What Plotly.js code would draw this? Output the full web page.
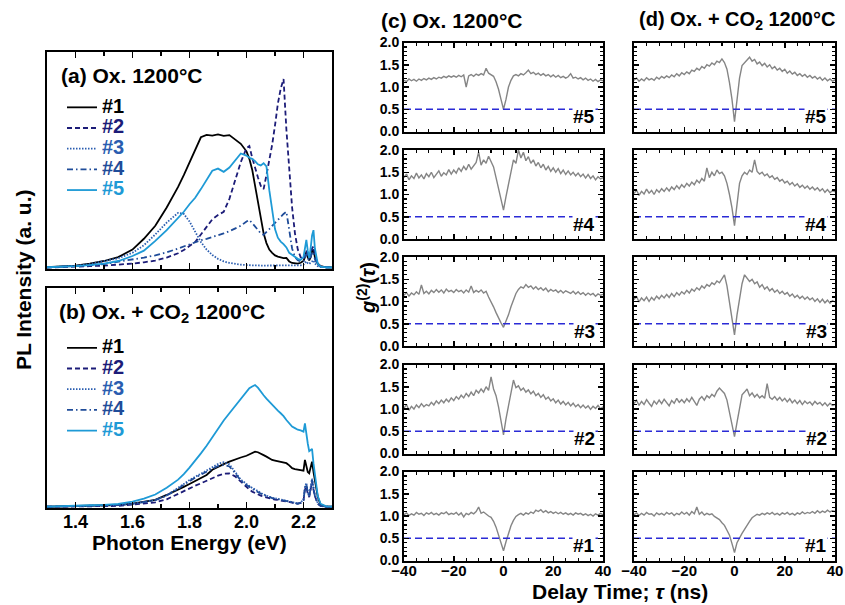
<!DOCTYPE html>
<html>
<head>
<meta charset="utf-8">
<script src="https://cdn.plot.ly/plotly-3.0.1.min.js"></script>
<style>html,body{margin:0;padding:0;background:#fff;}#chart{width:845px;height:605px;}</style>
</head>
<body>
<div id="chart"></div>
<script>
// ---------------- DATA ----------------
const energy = [1.30,1.35,1.40,1.45,1.50,1.55,1.60,1.64,1.68,1.72,1.76,1.78,1.80,1.82,1.84,1.86,1.88,1.90,1.92,1.94,1.96,1.98,2.00,
  2.01,2.02,2.03,2.04,2.05,2.06,2.07,2.08,2.09,2.10,2.11,2.12,2.13,2.14,2.15,2.16,2.17,2.18,2.19,2.20,
  2.205,2.21,2.215,2.22,2.225,2.23,2.235,2.24,2.25,2.26,2.28,2.30];

const sampleNames = ['#1','#2','#3','#4','#5'];

// (a) Ox. 1200°C  PL spectra
const plA1 = [0.3,0.5,1.0,2.0,3.2,5.0,8.5,13.5,19.5,28,37.5,43,49,55,60.5,61.6,61.3,61.8,61.2,61.5,59.5,57.5,54,
  50.5,45.5,38,30,22.5,16,11.5,8.5,7,5.8,5.2,4.8,4.5,4.6,3.0,2.3,2.0,2.0,2.4,3.2,
  5,7.5,5,3.5,5,7.5,8.5,5,2,0.8,0.3,0.2];
const plA2 = [0.2,0.3,0.5,0.8,1.1,1.5,2.0,2.6,3.4,4.8,6.8,8.3,10,12,15.5,19,22.5,24.5,26,32,40,49,55.5,
  56.5,51,46,42,38,36.5,43,50,57,66,76,83,87.5,64,44,28,16,8.5,5,4,
  5.5,8,6,4.5,6.5,9,10,6,2,0.7,0.3,0.2];
const plA3 = [0.3,0.5,1.0,1.8,3.0,4.5,7,10.5,15.5,21,25.5,25,21.5,16.5,12,8.5,6,4.2,3,2.3,1.8,1.5,1.3,
  1.2,1.2,1.2,1.1,1.1,1.1,1.1,1.1,1.0,1.0,1.0,1.0,1.0,1.0,1.0,1.0,1.1,1.1,1.2,1.5,
  2.2,3,2.2,1.8,2.5,3.2,3.5,2,0.8,0.4,0.2,0.2];
const plA4 = [0.3,0.5,0.8,1.2,1.8,2.8,3.8,4.8,5.8,7.2,9,10,11,12,12.8,13.5,14.3,15,16,17,18.2,19.5,21.5,
  22.2,20.8,19.2,17.8,16,15.3,16.5,18,19.5,21,22.5,23.8,25,26,17,9,5,3.5,3,3,
  4.5,6.5,4.5,3.5,5,7,7.5,4,1.5,0.6,0.3,0.2];
const plA5 = [0.3,0.5,0.8,1.3,2.0,3.2,5.5,8,12.5,17.5,23,26,29.5,32.5,36.5,41,45,46,44.5,46.5,49.5,53,52,
  51,50.5,49.5,48,47.5,48.5,47,36,26,18,14,12.2,11,9.5,7,6,5,4.2,3.7,5,
  9,13,8,4.5,9,15,17.5,9,2,0.6,0.3,0.2];

// (b) Ox. + CO2 1200°C  PL spectra
const plB1 = [0.1,0.2,0.3,0.4,0.6,0.9,1.5,2.3,3.3,5.5,7.8,9.2,10.5,11.8,13.2,14.6,17,18.4,19.6,20.7,21.8,22.6,23.4,
  24.0,24.8,25.3,25.0,24.5,23.7,23,22.3,21.5,21.2,20.9,20.7,20.5,20,19,17.7,17.3,17,16.9,16.6,
  21.5,19,16,15.4,18,20.7,16,12.3,4.7,1,0.2,0.1];
const plB2 = [0.1,0.1,0.2,0.3,0.4,0.5,1.0,1.5,2.1,3.5,6,7.5,8.7,9.7,10.8,12,13.2,14.3,15.2,15.3,14,11.5,9,
  8,7,6.3,5.7,5.2,4.7,4.3,4,3.6,3.4,3.2,3,2.8,2.6,2.4,2.0,1.6,1.5,1.8,3,
  8,9.3,6,4.5,8,11.6,8,5,1.5,0.5,0.1,0.1];
const plB3 = [0.1,0.2,0.3,0.4,0.6,0.9,1.5,2.2,3.2,5.3,8.5,10.5,12.3,13.8,15.2,16.6,18,19.6,20.5,19.5,16,12.5,10.5,
  9.5,8.7,8,7.2,6.2,5.7,5.2,4.6,4.2,4,3.7,3.5,3.3,3.0,2.7,2.3,1.8,1.6,2,3.5,
  9,11,7,5,9,13,9,5.5,1.8,0.5,0.1,0.1];
const plB4 = [0.1,0.2,0.3,0.4,0.6,0.9,1.4,2.1,3.1,5.2,8.2,10.2,12,13.4,14.8,16.1,17.5,18.7,19.2,18.5,15.5,12,10,
  9,8.3,7.5,6.8,6,5.5,5,4.4,4.1,3.8,3.6,3.4,3.2,2.9,2.5,2.2,1.7,1.5,1.9,3.2,
  8.5,10.5,6.5,4.8,8.5,12.5,8.5,5,1.6,0.5,0.1,0.1];
const plB5 = [0.2,0.3,0.5,0.8,1.0,1.4,2.5,3.8,5.7,8.8,12.5,15,18,21,24.5,28,32,36,39.5,42.8,46,49.6,52.5,
  54.2,55,55.7,54.5,52.6,51,49.5,48,46.5,45,44,42.8,41.5,39.7,38,36.7,36,35.3,35,34.4,
  38.2,33,29,25.5,26,26.5,20,14,5,1.5,0.3,0.2];

// g2(tau) delay axis (ns)
const tau = [-40,-39,-38,-37,-36,-35,-34,-33,-32,-31,-30,-29,-28,-27,-26,-25,-24,-23,-22,-21,
  -20,-19,-18,-17,-16,-15,-14,-13,-12,-11,-10,-9,-8,-7,-6,-5,-4,-3,-2,-1,0,
  1,2,3,4,5,6,7,8,9,10,11,12,13,14,15,16,17,18,19,20,
  21,22,23,24,25,26,27,28,29,30,31,32,33,34,35,36,37,38,39,40];
const refLevel = 0.5;

// (c) Ox. 1200°C
const g2C5 = [1.15,1.12,1.18,1.14,1.17,1.13,1.18,1.15,1.19,1.16, 1.2,1.17,1.21,1.18,1.22,1.2,1.24,1.21,1.25,1.22,
  1.25,1.22,1.26,1.23,1.27,1.0,1.25,1.28,1.24,1.29, 1.26,1.3,1.27,1.42,1.31,1.28,1.24,1.12,0.95,0.72, 0.5,
  0.72,1.0,1.15,1.25,1.28,1.25,1.3,1.27,1.32,1.38, 1.3,1.33,1.28,1.31,1.26,1.3,1.25,1.28,1.23,1.27,
  1.22,1.26,1.21,1.24,1.2,1.23,1.3,1.2,1.22,1.18, 1.21,1.16,1.2,1.15,1.18,1.13,1.17,1.12,1.16,1.14];
const g2C4 = [1.38,1.46,1.33,1.42,1.36,1.48,1.37,1.44,1.35,1.47, 1.4,1.5,1.38,1.45,1.53,1.41,1.49,1.44,1.56,1.46,
  1.55,1.48,1.6,1.52,1.63,1.55,1.68,1.57,1.65,1.72, 1.95,1.66,1.78,1.7,1.86,1.75,1.62,1.38,1.12,0.88, 0.65,
  0.95,1.25,1.55,1.78,1.7,2.0,1.82,1.95,1.76,1.85, 1.7,1.78,1.64,1.72,1.6,1.68,1.55,1.63,1.52,1.6,
  1.5,1.58,1.47,1.55,1.45,1.53,1.44,1.5,1.42,1.48, 1.4,1.46,1.37,1.45,1.36,1.42,1.33,1.4,1.35,1.38];
const g2C3 = [1.14,1.2,1.12,1.19,1.15,1.22,1.16,1.37,1.18,1.23, 1.17,1.25,1.2,1.27,1.21,1.26,1.19,1.28,1.22,1.25,
  1.2,1.27,1.22,1.25,1.19,1.26,1.21,1.35,1.2,1.25, 1.21,1.26,1.19,1.23,1.1,1.0,0.88,0.75,0.62,0.52, 0.42,
  0.55,0.7,0.88,1.05,1.18,1.27,1.33,1.3,1.38,1.32, 1.35,1.28,1.33,1.27,1.31,1.25,1.3,1.22,1.27,1.23,
  1.26,1.2,1.25,1.19,1.24,1.21,1.18,1.23,1.17,1.22, 1.16,1.2,1.14,1.19,1.15,1.18,1.12,1.17,1.14,1.16];
const g2C2 = [1.02,1.1,0.97,1.06,1.0,1.09,1.03,1.12,1.05,1.1, 1.07,1.15,1.09,1.18,1.12,1.2,1.14,1.22,1.16,1.25,
  1.19,1.28,1.22,1.31,1.25,1.35,1.28,1.38,1.3,1.42, 1.36,1.45,1.38,1.5,1.42,1.72,1.45,1.3,1.05,0.72, 0.42,
  0.78,1.1,1.42,1.65,1.48,1.52,1.42,1.47,1.38,1.43, 1.34,1.4,1.3,1.35,1.26,1.32,1.22,1.27,1.18,1.23,
  1.14,1.2,1.11,1.17,1.09,1.15,1.07,1.13,1.05,1.1, 1.03,1.09,1.02,1.07,0.99,1.06,1.01,1.08,1.0,1.05];
const g2C1 = [1.03,1.07,1.01,1.05,1.02,1.08,1.04,1.06,1.01,1.07, 1.04,1.08,1.03,1.06,1.02,1.07,1.05,1.09,1.03,1.06,
  1.04,1.08,1.02,1.07,0.98,1.06,1.03,1.08,1.05,1.1, 1.2,1.06,1.09,1.04,1.0,0.97,0.88,0.75,0.58,0.4, 0.22,
  0.42,0.6,0.78,0.9,0.99,1.03,1.06,1.02,1.07,1.04, 1.09,1.06,1.13,1.1,1.14,1.08,1.12,1.07,1.1,1.06,
  1.09,1.05,1.08,1.04,1.07,1.03,1.06,1.02,1.07,1.04, 1.06,1.02,1.05,1.01,1.04,1.0,1.05,1.02,1.06,1.03];

// (d) Ox. + CO2 1200°C
const g2D5 = [1.15,1.2,1.13,1.18,1.14,1.21,1.16,1.19,1.15,1.22, 1.18,1.24,1.2,1.25,1.21,1.27,1.23,1.3,1.25,1.32,
  1.28,1.34,1.3,1.38,1.35,1.42,1.38,1.46,1.42,1.5, 1.47,1.54,1.5,1.58,1.55,1.63,1.55,1.4,1.1,0.72, 0.22,
  0.75,1.2,1.48,1.55,1.6,1.67,1.58,1.62,1.52,1.56, 1.48,1.53,1.45,1.5,1.41,1.46,1.38,1.42,1.35,1.4,
  1.31,1.36,1.29,1.33,1.26,1.3,1.24,1.28,1.22,1.26, 1.2,1.24,1.18,1.22,1.15,1.2,1.14,1.18,1.13,1.16];
const g2D4 = [1.02,1.1,0.98,1.07,1.01,1.12,1.03,1.09,1.0,1.11, 1.05,1.13,1.07,1.15,1.08,1.17,1.11,1.2,1.13,1.22,
  1.16,1.25,1.19,1.28,1.22,1.32,1.26,1.36,1.3,1.6, 1.38,1.5,1.42,1.55,1.47,1.5,1.42,1.25,1.0,0.7, 0.3,
  0.85,1.25,1.42,1.5,1.45,1.55,1.5,1.78,1.52,1.46, 1.5,1.42,1.46,1.38,1.42,1.34,1.38,1.3,1.34,1.26,
  1.3,1.22,1.27,1.19,1.24,1.16,1.21,1.14,1.19,1.12, 1.17,1.1,1.15,1.08,1.13,1.05,1.11,1.04,1.09,1.06];
const g2D3 = [1.04,1.12,0.99,1.08,1.02,1.1,1.0,1.09,1.03,1.12, 1.06,1.14,1.08,1.16,1.09,1.18,1.11,1.2,1.14,1.22,
  1.17,1.25,1.19,1.28,1.23,1.31,1.26,1.35,1.3,1.38, 1.34,1.42,1.38,1.46,1.42,1.52,1.6,1.35,1.0,0.6, 0.25,
  0.7,1.1,1.4,1.6,1.52,1.45,1.5,1.4,1.44,1.32, 1.38,1.28,1.33,1.24,1.29,1.21,1.26,1.18,1.23,1.16,
  1.2,1.12,1.17,1.09,1.14,1.07,1.12,1.05,1.1,1.04, 1.08,1.0,1.06,0.98,1.05,0.97,1.03,0.96,1.02,0.99];
const g2D2 = [1.12,1.2,1.08,1.17,1.1,1.21,1.13,1.06,1.18,1.11, 1.2,1.12,1.22,1.14,1.07,1.19,1.13,1.24,1.15,1.21,
  1.14,1.23,1.16,1.26,1.18,1.08,1.22,1.28,1.2,1.3, 1.25,1.33,1.28,1.4,1.47,1.42,1.35,1.2,0.95,0.65, 0.38,
  0.7,1.05,1.32,1.38,1.45,1.3,1.36,1.27,1.33,1.25, 1.3,1.24,1.57,1.26,1.22,1.28,1.2,1.26,1.18,1.24,
  1.16,1.23,1.14,1.2,1.12,1.19,1.1,1.18,1.12,1.16, 1.09,1.17,1.11,1.15,1.08,1.14,1.07,1.13,1.08,1.1];
const g2D1 = [1.03,1.07,1.01,1.06,1.02,1.08,1.04,1.05,1.0,1.07, 1.03,1.06,1.02,1.08,1.04,1.07,1.01,1.06,1.03,1.09,
  1.04,1.08,1.02,1.1,1.05,1.2,1.04,1.09,1.02,1.06, 1.03,1.05,0.99,0.96,0.92,0.85,0.79,0.68,0.57,0.38, 0.18,
  0.4,0.52,0.61,0.7,0.8,0.88,0.96,1.0,1.04,1.02, 1.06,1.03,1.07,1.04,1.08,1.03,1.06,1.02,1.07,1.04,
  1.08,1.03,1.06,1.02,1.07,1.04,1.09,1.05,1.08,1.06, 1.1,1.06,1.12,1.07,1.11,1.08,1.13,1.09,1.12,1.1];

// ---------------- STYLE / LAYOUT ----------------
const W = 845, H = 605;
const FONT = 'Arial, "Liberation Sans", Helvetica, sans-serif';
const px = v => v / W;
const py = v => 1 - v / H;

const plColors = ['#000000', '#1c1c78', '#2a5db0', '#1f4c99', '#1e9ad6'];
const plDash = ['solid', '5px,3px', '1.5px,1.5px', '6px,3px,1.5px,3px', 'solid'];
const plA = [plA1, plA2, plA3, plA4, plA5];
const plB = [plB1, plB2, plB3, plB4, plB5];

const traces = [];
[plA, plB].forEach((set, p) => {
  set.forEach((ys, i) => {
    traces.push({
      type: 'scatter', mode: 'lines', x: energy, y: ys,
      xaxis: p === 0 ? 'x' : 'x2', yaxis: p === 0 ? 'y' : 'y2',
      legend: p === 0 ? 'legend' : 'legend2',
      name: '<span style="font-size:20px;color:' + plColors[i] + '"><b>' + sampleNames[i] + '</b></span>',
      line: { color: plColors[i], width: 1.8, dash: plDash[i] },
      showlegend: true
    });
  });
});

const g2Cols = [[g2C5, g2C4, g2C3, g2C2, g2C1], [g2D5, g2D4, g2D3, g2D2, g2D1]];
const rowLabels = ['#5', '#4', '#3', '#2', '#1'];
const rowTops = [42.5, 150, 257, 364.5, 471.5];
const rowH = 89;
const colX = [[404, 603], [634, 835]];

const legendStyle = {
  xanchor: 'left', yanchor: 'top',
  bgcolor: 'rgba(0,0,0,0)', font: { size: 13.6, family: FONT, weight: 'bold' },
  itemwidth: 30, tracegroupgap: 0, traceorder: 'normal'
};

const layout = {
  width: W, height: H,
  margin: { l: 0, r: 0, t: 0, b: 0 },
  paper_bgcolor: '#fff', plot_bgcolor: '#fff',
  font: { family: FONT, color: '#000' },
  showlegend: true,
  legend: Object.assign({ x: px(62), y: py(92) }, legendStyle),
  legend2: Object.assign({ x: px(62), y: py(332.5) }, legendStyle),
  annotations: []
};

const boxAxis = {
  showline: true, linewidth: 2, linecolor: '#000', mirror: 'ticks',
  showgrid: false, zeroline: false, fixedrange: true
};

// Left panels
layout.xaxis = Object.assign({}, boxAxis, {
  domain: [px(47), px(332)], range: [1.3, 2.3], anchor: 'y',
  ticks: 'inside', ticklen: 6, tickwidth: 1.5, tickcolor: '#000', tick0: 1.4, dtick: 0.2,
  minor: { ticks: 'inside', dtick: 0.1, tick0: 1.4, ticklen: 4, tickwidth: 1.5, tickcolor: '#000' },
  showticklabels: false
});
layout.yaxis = Object.assign({}, boxAxis, {
  domain: [py(269), py(52)], range: [-0.5, 100], anchor: 'x', mirror: true,
  ticks: '', showticklabels: false
});
layout.xaxis2 = Object.assign({}, boxAxis, {
  domain: [px(47), px(332)], range: [1.3, 2.3], anchor: 'y2',
  ticks: 'inside', ticklen: 6, tickwidth: 1.5, tickcolor: '#000', tick0: 1.4, dtick: 0.2,
  minor: { ticks: 'inside', dtick: 0.1, tick0: 1.4, ticklen: 4, tickwidth: 1.5, tickcolor: '#000' },
  showticklabels: true, tickformat: '.1f', ticklabelstandoff: -4,
  tickfont: { size: 18, family: FONT, weight: 'bold', color: '#000' }
});
layout.yaxis2 = Object.assign({}, boxAxis, {
  domain: [py(508), py(288)], range: [-0.46, 100], anchor: 'x2', mirror: true,
  ticks: '', showticklabels: false
});

// Right panels
let axIdx = 3;
g2Cols.forEach((col, c) => {
  col.forEach((ys, r) => {
    const n = axIdx++;
    const xa = 'x' + n, ya = 'y' + n;
    layout['xaxis' + n] = Object.assign({}, boxAxis, {
      domain: [px(colX[c][0]), px(colX[c][1])], range: [-40, 40], anchor: ya,
      ticks: 'inside', ticklen: 5, tickwidth: 1.5, tickcolor: '#000', tick0: -40, dtick: 20,
      minor: { ticks: 'inside', dtick: 5, tick0: -40, ticklen: 3, tickwidth: 1.2, tickcolor: '#000' },
      showticklabels: r === 4, ticklabelstandoff: -5,
      tickfont: { size: 15, family: FONT, weight: 'bold', color: '#000' }
    });
    layout['yaxis' + n] = Object.assign({}, boxAxis, {
      domain: [py(rowTops[r] + rowH), py(rowTops[r])], range: [0, 2], anchor: xa,
      ticks: 'inside', ticklen: 5, tickwidth: 1.5, tickcolor: '#000', tick0: 0, dtick: 0.5,
      minor: { ticks: 'inside', dtick: 0.1, tick0: 0, ticklen: 3, tickwidth: 1.2, tickcolor: '#000' },
      showticklabels: c === 0, tickformat: '.1f',
      tickfont: { size: 14, family: FONT, weight: 'bold', color: '#000' }
    });
    traces.push({
      type: 'scatter', mode: 'lines', x: tau, y: ys, xaxis: xa, yaxis: ya,
      line: { color: '#858585', width: 1.4 }, showlegend: false
    });
    traces.push({
      type: 'scatter', mode: 'lines', x: [tau[0], tau[tau.length - 1]], y: [refLevel, refLevel],
      xaxis: xa, yaxis: ya,
      line: { color: '#2b2bd6', width: 1.5, dash: '7px,4px' }, showlegend: false
    });
    layout.annotations.push({
      xref: xa + ' domain', yref: ya, x: 0.965, y: 0.33, xanchor: 'right', yanchor: 'middle',
      text: '<b>' + rowLabels[r] + '</b>', showarrow: false, bgcolor: '#fff', borderpad: 0,
      font: { size: 19, family: FONT, color: '#000' }
    });
  });
});

const bold21 = { size: 21, family: FONT, color: '#000' };
layout.annotations.push(
  { xref: 'paper', yref: 'paper', x: px(59), y: py(75), xanchor: 'left', yanchor: 'middle', showarrow: false,
    text: '<b>(a) Ox. 1200°C</b>', font: bold21 },
  { xref: 'paper', yref: 'paper', x: px(57), y: py(313), xanchor: 'left', yanchor: 'middle', showarrow: false,
    text: '<b>(b) Ox. + CO<sub>2</sub> 1200°C</b>', font: bold21 },
  { xref: 'paper', yref: 'paper', x: px(379), y: py(20), xanchor: 'left', yanchor: 'middle', showarrow: false,
    text: '<b>(c) Ox. 1200°C</b>', font: bold21 },
  { xref: 'paper', yref: 'paper', x: px(637), y: py(20), xanchor: 'left', yanchor: 'middle', showarrow: false,
    text: '<b>(d) Ox. + CO<sub>2</sub> 1200°C</b>', font: { size: 20, family: FONT, color: '#000' } },
  { xref: 'paper', yref: 'paper', x: px(23), y: py(280), xanchor: 'center', yanchor: 'middle', showarrow: false,
    textangle: -90, text: '<b>PL Intensity (a. u.)</b>', font: bold21 },
  { xref: 'paper', yref: 'paper', x: px(189), y: py(542), xanchor: 'center', yanchor: 'middle', showarrow: false,
    text: '<b>Photon Energy (eV)</b>', font: bold21 },
  { xref: 'paper', yref: 'paper', x: px(366), y: py(288), xanchor: 'center', yanchor: 'middle', showarrow: false,
    textangle: -90, text: '<b><i>g</i><sup>(2)</sup>(<i>τ</i>)</b>', font: { size: 20, family: FONT, color: '#000' } },
  { xref: 'paper', yref: 'paper', x: px(620), y: py(591), xanchor: 'center', yanchor: 'middle', showarrow: false,
    text: '<b>Delay Time; <i>τ</i> (ns)</b>', font: bold21 }
);

Plotly.newPlot('chart', traces, layout, { staticPlot: true, displayModeBar: false });
</script>
</body>
</html>
